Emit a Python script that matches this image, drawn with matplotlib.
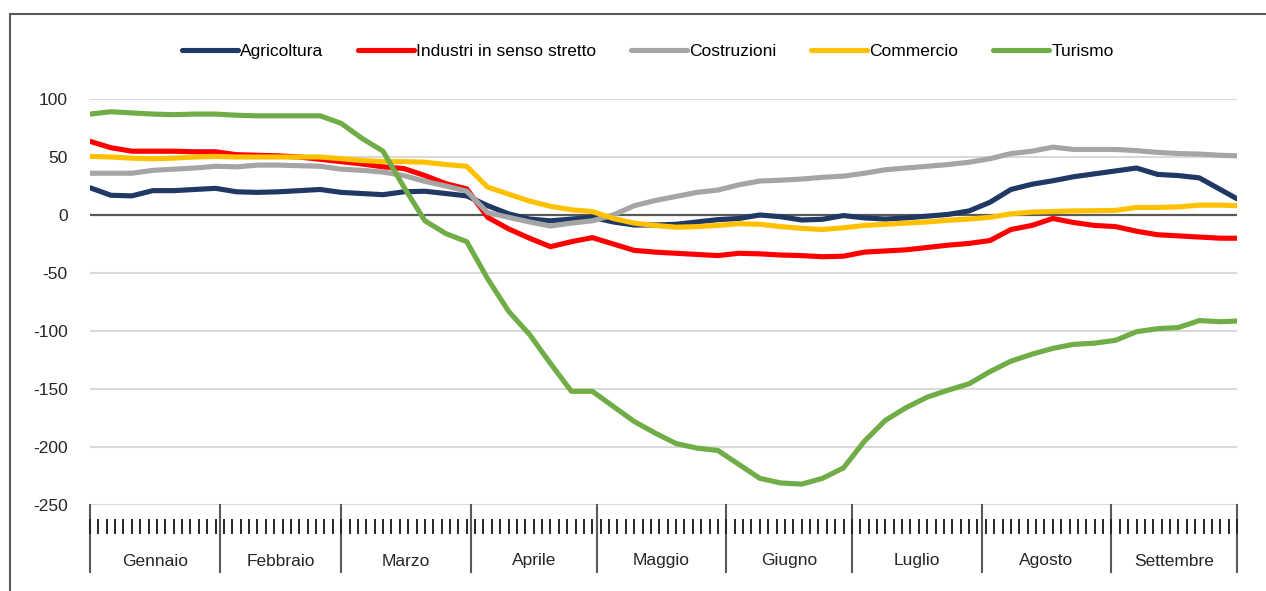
import matplotlib
matplotlib.use("Agg")
import matplotlib.pyplot as plt
from matplotlib.patches import Rectangle
from matplotlib.transforms import blended_transform_factory

plt.rcParams['font.family'] = ['Liberation Sans', 'DejaVu Sans']
plt.rcParams['axes.unicode_minus'] = False

# giorni dall'1 gennaio (un punto ogni 5 giorni)
giorni = list(range(0, 271, 5)) + [274]

agricoltura = [23.5, 17, 16.5, 21, 21, 22, 23, 20, 19.5, 20, 21, 22, 19.5, 18.5, 17.5,
               20, 20.5, 18.5, 16.5, 8, 1, -3.5, -5, -3.5, -2, -6, -8.6, -8.6, -8, -6,
               -4, -3, 0, -1.5, -4.3, -3.7, -0.5, -2.5, -3.5, -2.5, -1, 0.5, 3.5, 11,
               22, 26.5, 29.5, 33, 35.5, 38, 40.5, 35, 34, 32, 22, 14]
industria = [63.5, 58, 55, 55, 55, 54.5, 54.5, 52, 51.5, 51, 50, 48, 46, 44, 41.5,
             40, 34, 27, 22.5, -2, -12, -20, -27.3, -23, -19.5, -25, -30.5, -32, -33, -34,
             -35, -33, -33.5, -34.5, -35, -36, -35.5, -32, -31, -30, -28, -26, -24.5, -22,
             -12.5, -9, -3, -6.5, -9, -10, -14, -17, -18, -19, -20, -20]
costruzioni = [36, 36, 36, 38.5, 39.5, 40.5, 42, 41.5, 43, 43, 42.5, 42, 39.5, 38.5, 37,
               34, 29, 25, 20.5, 2, -2, -6, -9.5, -7, -5, 0, 8, 12.5, 16, 19.5,
               21.5, 26, 29.3, 30, 31, 32.5, 33.5, 36, 39, 40.5, 42, 43.5, 45.5, 48.5,
               53, 55, 58.5, 56.5, 56.5, 56.5, 55.5, 54, 53, 52.5, 51.5, 51]
commercio = [50.5, 50, 49, 48.5, 49, 50, 50.5, 50, 50, 50, 50, 50, 48.5, 47, 46,
             46, 45.5, 43.5, 42, 24, 18, 12, 7.5, 4.5, 3, -3, -7, -9, -10.5, -10,
             -9, -7.5, -8, -10, -11.5, -12.5, -11, -9, -8, -7, -6, -4.5, -3.5, -2,
             1, 2.5, 3, 3.5, 3.7, 4, 6.5, 6.5, 7, 8.5, 8.5, 8]
turismo = [87, 89, 88, 87, 86.5, 87, 87, 86, 85.5, 85.5, 85.5, 85.5, 79, 66, 55,
           24, -5, -16, -23, -55, -83, -103, -128, -152, -152, -165, -178, -188, -197, -201,
           -203, -215, -227, -231, -232, -227, -218, -195, -177, -166, -157, -151, -145.5, -135,
           -126, -120, -115, -111.5, -110.5, -108, -100.6, -98, -97, -91, -92, -91.4]

serie = ["Agricoltura", "Industri in senso stretto", "Costruzioni", "Commercio", "Turismo"]
colori = ["#203864", "#FF0000", "#A5A5A5", "#FFC000", "#70AD47"]

mesi = ["Gennaio", "Febbraio", "Marzo", "Aprile", "Maggio", "Giugno",
        "Luglio", "Agosto", "Settembre"]
inizio_mesi = [0, 31, 60, 91, 121, 152, 182, 213, 244, 274]

W, H = 1266, 591
fig = plt.figure(figsize=(W / 100, H / 100), dpi=100)
ax = fig.add_axes([90 / W, 1 - 505 / H, (1237 - 90) / W, (505 - 99) / H])

for nome, valori, col in zip(serie, [agricoltura, industria, costruzioni, commercio, turismo], colori):
    ax.plot(giorni, valori, color=col, lw=3.7, label=nome, solid_capstyle='round', zorder=3)

ax.set_xlim(0, 274)
ax.set_ylim(-250, 100)
ax.set_yticks(range(-250, 101, 50))
ax.set_xticks([])
for v in range(-250, 101, 50):
    if v == 0:
        ax.axhline(0, color="#595959", lw=1.6, zorder=2)
    else:
        ax.axhline(v, color="#D9D9D9", lw=1.5, zorder=1)
for s in ax.spines.values():
    s.set_visible(False)
ax.tick_params(axis='y', length=0, pad=16, labelsize=12.5, labelcolor="#262626")

# asse delle categorie (mesi e giorni)
trans = blended_transform_factory(ax.transData, ax.transAxes)
h_ax = 505 - 99
for g in inizio_mesi:
    ax.plot([g, g], [0, -(572 - 505) / h_ax], color="#595959", lw=1.5,
            transform=trans, clip_on=False)
for g in range(0, 275, 2):
    ax.plot([g, g], [-(520 - 505) / h_ax, -(533 - 505) / h_ax], color="#262626", lw=1.4,
            transform=trans, clip_on=False)
for i, m in enumerate(mesi):
    centro = (inizio_mesi[i] + inizio_mesi[i + 1]) / 2
    ax.text(centro, -(561 - 505) / h_ax, m, transform=trans, ha='center', va='center',
            fontsize=12.5, color="#262626")

fig.legend(loc='center', bbox_to_anchor=(648 / W, 1 - 51 / H), ncol=5, frameon=False,
           fontsize=12.5, handlelength=3.2, handletextpad=0.15, columnspacing=2.0)

# cornice esterna
fig.add_artist(Rectangle((10 / W, -0.1), 1.2, 1.1 - 14 / H, transform=fig.transFigure,
                         fill=False, edgecolor="#595959", lw=1.5))

fig.savefig("out.png", dpi=100)
